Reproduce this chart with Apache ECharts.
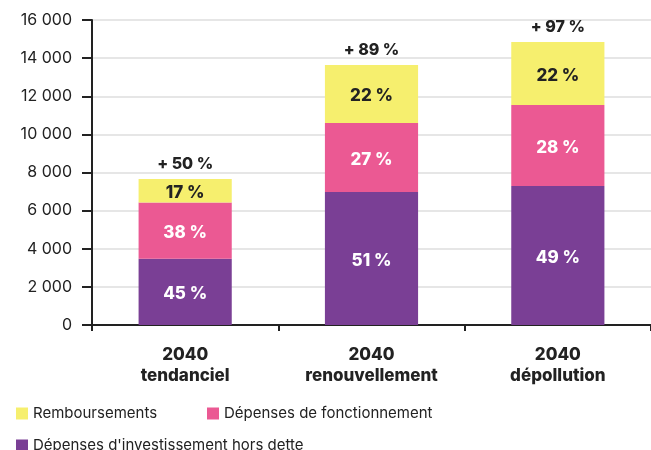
<!DOCTYPE html>
<html>
<head>
<meta charset="utf-8">
<script src="https://cdn.jsdelivr.net/npm/echarts@6/dist/echarts.min.js"></script>
<style>
  html, body { margin: 0; padding: 0; background: #fff; }
  #chart { width: 651px; height: 450px; }
</style>
</head>
<body>
<div id="chart"></div>
<script>
// scénarios 2040
const categories = ['2040\ntendanciel', '2040\nrenouvellement', '2040\ndépollution']
const investissement = [3480, 6980, 7290]
const fonctionnement = [2940, 3620, 4250]
const remboursements = [1240, 3040, 3310]
const partInvest = ['45 %', '51 %', '49 %']
const partFonct = ['38 %', '27 %', '28 %']
const partRemb = ['17 %', '22 %', '22 %']
const hausse = ['+ 50 %', '+ 89 %', '+ 97 %']

const totals = investissement.map((v, i) => v + fonctionnement[i] + remboursements[i])

const FONT = 'Inter'
const dark = '#222222'

const fmt = v => String(v).replace(/\B(?=(\d{3})+(?!\d))/g, ' ')

const labelFrom = (arr, color) => ({
    show: true,
    position: 'inside',
    offset: [0, 2],
    fontFamily: FONT,
    fontWeight: 800,
    fontSize: 17,
    color: color,
    formatter: p => arr[p.dataIndex]
})

const myChart = echarts.init(document.getElementById('chart'))

const legendBase = {
    itemWidth: 12,
    itemHeight: 12,
    icon: 'rect',
    textStyle: { fontFamily: FONT, fontSize: 15, color: dark, padding: [0, 0, 0, 0] }
}

const option = {
    animation: false,
    grid: { left: 92, right: 0, top: 20, bottom: 125 },
    legend: [
        Object.assign({ data: ['Remboursements'], left: 11, top: 401 }, legendBase),
        Object.assign({ data: ['Dépenses de fonctionnement'], left: 202, top: 401 }, legendBase),
        Object.assign({ data: ["Dépenses d'investissement hors dette"], left: 11, top: 433 }, legendBase)
    ],
    xAxis: {
        type: 'category',
        data: categories,
        axisLine: { lineStyle: { color: dark, width: 2 } },
        axisTick: { show: true, length: 6, lineStyle: { color: dark, width: 2 } },
        axisLabel: {
            margin: 19,
            fontFamily: FONT,
            fontWeight: 800,
            fontSize: 17,
            lineHeight: 21,
            color: dark
        }
    },
    yAxis: {
        type: 'value',
        min: 0,
        max: 16000,
        interval: 2000,
        axisLine: { show: true, lineStyle: { color: dark, width: 2 } },
        axisTick: { show: true, length: 10, lineStyle: { color: dark, width: 2 } },
        axisLabel: {
            margin: 20,
            fontFamily: FONT,
            fontSize: 16,
            color: dark,
            formatter: v => fmt(v)
        },
        splitLine: { lineStyle: { color: '#e6e6e6', width: 2 } }
    },
    series: [
        {
            name: "Dépenses d'investissement hors dette",
            type: 'bar',
            stack: 'total',
            barWidth: '50%',
            data: investissement,
            itemStyle: { color: '#7A3F95' },
            label: labelFrom(partInvest, '#ffffff')
        },
        {
            name: 'Dépenses de fonctionnement',
            type: 'bar',
            stack: 'total',
            data: fonctionnement,
            itemStyle: { color: '#EB5993' },
            label: labelFrom(partFonct, '#ffffff')
        },
        {
            name: 'Remboursements',
            type: 'bar',
            stack: 'total',
            data: remboursements,
            itemStyle: { color: '#F6EF6E' },
            label: labelFrom(partRemb, dark)
        },
        {
            name: 'hausse',
            type: 'line',
            data: totals,
            symbol: 'circle',
            symbolSize: 1,
            itemStyle: { color: 'rgba(0,0,0,0)' },
            lineStyle: { opacity: 0 },
            silent: true,
            label: {
                show: true,
                position: 'top',
                distance: 6,
                fontFamily: FONT,
                fontWeight: 800,
                fontSize: 16,
                color: dark,
                formatter: p => hausse[p.dataIndex]
            }
        }
    ]
}

myChart.setOption(option)
window.addEventListener('resize', () => {
    myChart.resize()
})
</script>
</body>
</html>
